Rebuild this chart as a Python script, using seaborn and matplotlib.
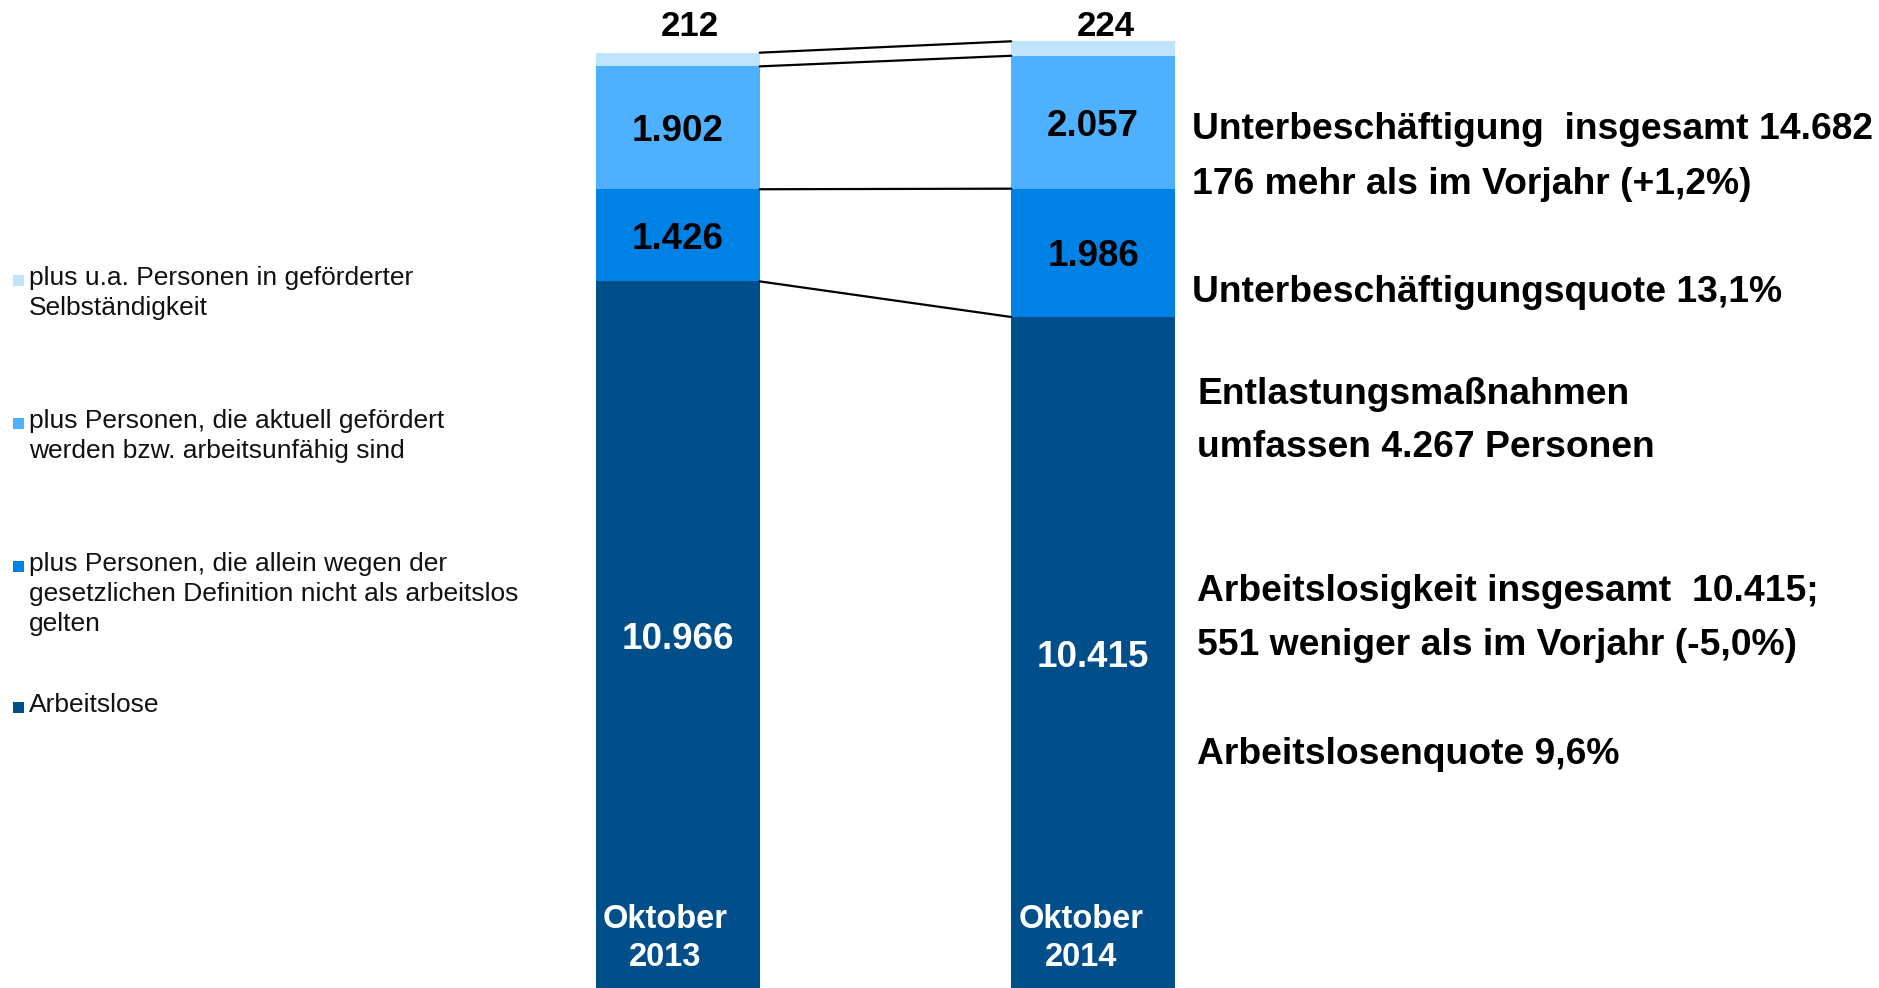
import matplotlib
matplotlib.use("Agg")
import matplotlib.pyplot as plt
import matplotlib.transforms as mtrans
import seaborn as sns
import numpy as np
import pandas as pd
from matplotlib.patches import Rectangle

# ---------------- data ----------------
categories = ["Oktober\n2013", "Oktober\n2014"]
arbeitslose = [10966, 10415]
definition = [1426, 1986]
gefoerdert = [1902, 2057]
selbststaendig = [212, 224]

legend_labels = [
    "plus u.a. Personen in geförderter\nSelbständigkeit",
    "plus Personen, die aktuell gefördert\nwerden bzw. arbeitsunfähig sind",
    "plus Personen, die allein wegen der\ngesetzlichen Definition nicht als arbeitslos\ngelten",
    "Arbeitslose",
]

notes = [
    "Unterbeschäftigung  insgesamt 14.682",
    "176 mehr als im Vorjahr (+1,2%)",
    "Unterbeschäftigungsquote 13,1%",
    "Entlastungsmaßnahmen",
    "umfassen 4.267 Personen",
    "Arbeitslosigkeit insgesamt  10.415;",
    "551 weniger als im Vorjahr (-5,0%)",
    "Arbeitslosenquote 9,6%",
]

# ---------------- style ----------------
sns.set_style("white")
plt.rcParams["font.family"] = ["Liberation Sans", "DejaVu Sans"]

W, H, DPI = 1879, 988, 100
fig = plt.figure(figsize=(W / DPI, H / DPI), dpi=DPI)
ax = fig.add_axes([0, 0, 1, 1])

layers = [arbeitslose, definition, gefoerdert, selbststaendig]
colors = ["#004F8A", "#0081E6", "#4DB1FF", "#C1E4FD"]
cum = np.cumsum(np.array(layers), axis=0)

bar_w = 0.395
df = pd.DataFrame({"cat": categories})
# draw cumulative totals from the top down so segments appear stacked
for k in range(len(layers) - 1, -1, -1):
    df["v"] = cum[k]
    sns.barplot(data=df, x="cat", y="v", color=colors[k], saturation=1,
                width=bar_w, errorbar=None, ax=ax, linewidth=0,
                edgecolor="none", order=categories)

# px-based scale
px_per_unit = 0.06461
y0_px = 989.9
ax.set_ylim((y0_px - H) / px_per_unit, y0_px / px_per_unit)
unit_px = 415.5
c0 = 677.7
ax.set_xlim(-c0 / unit_px, (W - c0) / unit_px)
ax.set_axis_off()


def fmt(v):
    return f"{v:,}".replace(",", ".")


# connecting lines between bars
for k in range(len(layers)):
    ax.plot([0 + bar_w / 2, 1 - bar_w / 2], [cum[k][0], cum[k][1]],
            color="black", lw=1.6, zorder=3)

top_tr = mtrans.blended_transform_factory(ax.transData, fig.transFigure)

# segment labels
for i in range(len(categories)):
    for k in range(3):
        bottom = cum[k][i] - layers[k][i]
        mid = bottom + layers[k][i] / 2
        ax.annotate(fmt(layers[k][i]), xy=(i, mid), xytext=(0, -4),
                    textcoords="offset pixels", ha="center", va="center",
                    fontsize=26.5, fontweight="bold",
                    color="white" if k == 0 else "black")
    # top small segment label above bar
    ax.text(i + 0.03, 1 - 26 / H, fmt(layers[3][i]), transform=top_tr,
            ha="center", va="center", fontsize=25, fontweight="bold",
            color="black")
    # category label inside the bottom of bar
    ax.text(i - 0.03, 790, categories[i], ha="center", va="center",
            fontsize=23.5, fontweight="bold", color="white", linespacing=1.28)

# right side notes
note_pos = [(1192, 129.5), (1192, 184.5), (1192, 292.5), (1197, 394.5),
            (1197, 447), (1197, 591.5), (1197, 645.5), (1197, 754.5)]
for txt, (x, y) in zip(notes, note_pos):
    fig.text(x / W, 1 - y / H, txt, ha="left", va="center",
             fontsize=26.8, fontweight="bold", color="black")

# manual legend
legend_base = [285, 428, 571, 712]
line_gap = 30
for lab, col, yb in zip(legend_labels, colors[::-1], legend_base):
    fig.patches.append(Rectangle((13 / W, 1 - (yb + 1) / H), 11 / W, 11 / H,
                                 transform=fig.transFigure, facecolor=col,
                                 edgecolor="none"))
    for j, line in enumerate(lab.split("\n")):
        fig.text(29 / W, 1 - (yb + j * line_gap) / H, line, ha="left",
                 va="baseline", fontsize=19, color="#111111")

fig.savefig("out.png", dpi=DPI)
